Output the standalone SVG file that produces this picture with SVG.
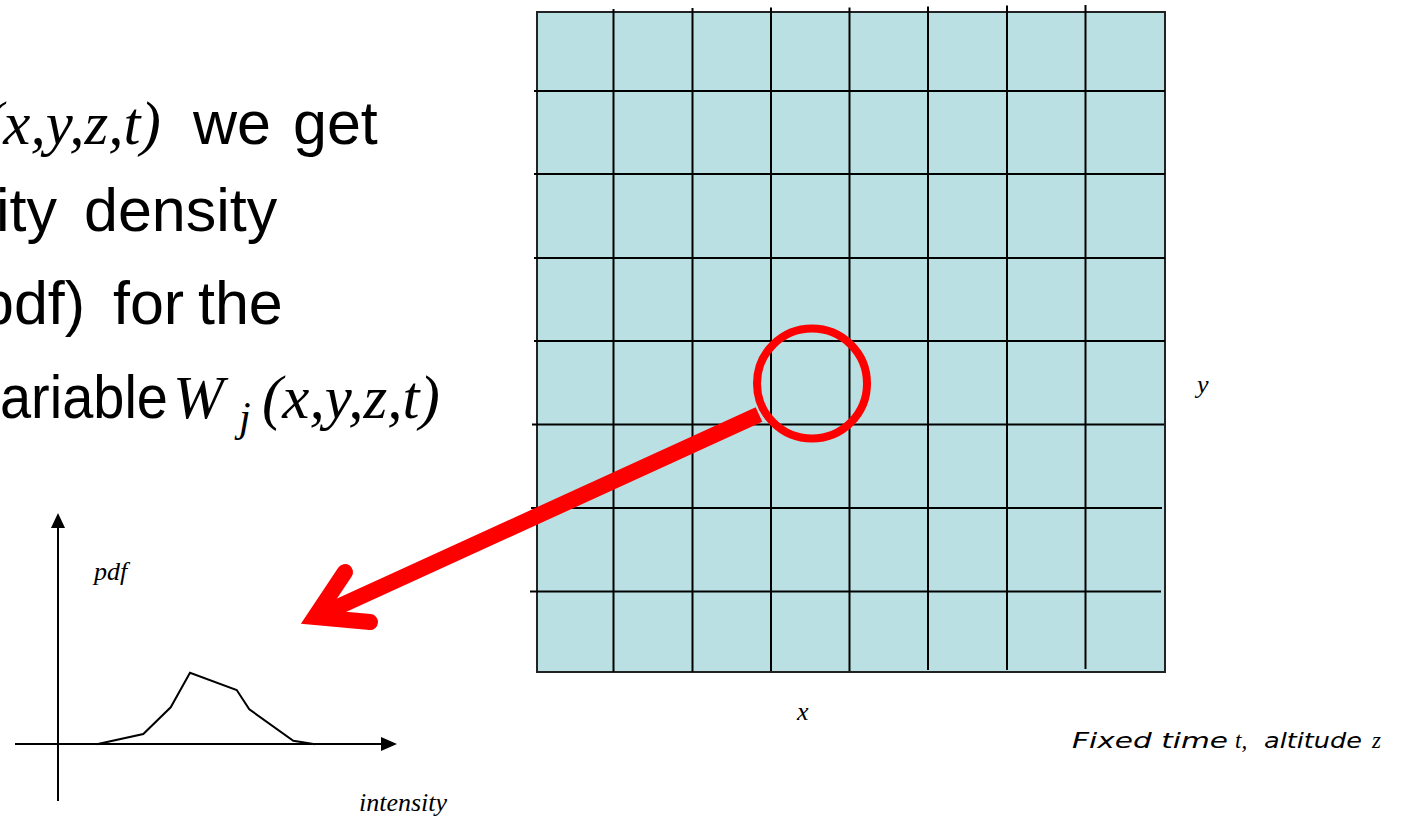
<svg xmlns="http://www.w3.org/2000/svg" width="1416" height="816" viewBox="0 0 1416 816">
<style>
.big{font-family:"Liberation Sans",Arial,sans-serif;font-size:61px;fill:#000}
.mi{font-family:"Liberation Serif","Times New Roman",serif;font-style:italic;fill:#000}
.grid line{stroke:#000;stroke-width:2}
.ax{stroke:#000;stroke-width:2;fill:none}
.red{stroke:#ff0000;fill:none}
.fx{font-family:"DejaVu Sans",sans-serif;font-style:italic;font-size:21px;fill:#000}
</style>
<rect width="1416" height="816" fill="#fff"/>
<g id="text">
<text class="big" y="144"><tspan class="mi" x="-17">(x,y,z,t)</tspan><tspan x="193">we</tspan><tspan x="293">get</tspan></text>
<text class="big" y="231"><tspan x="-4">ity</tspan><tspan x="84">density</tspan></text>
<text class="big" y="324"><tspan x="-20">pdf)</tspan><tspan x="113">for</tspan><tspan x="198">the</tspan></text>
<text class="big" y="418"><tspan x="0" textLength="168" lengthAdjust="spacingAndGlyphs">ariable</tspan><tspan class="mi" x="173">W</tspan><tspan class="mi" x="239" y="431" font-size="42">j</tspan><tspan class="mi" x="262" y="418">(x,y,z,t)</tspan></text>
</g>
<g id="grid" class="grid">
<rect x="537" y="12" width="628" height="660" fill="#bae0e3" stroke="#222" stroke-width="2"/>
<line x1="613.5" y1="9" x2="613.5" y2="672"/>
<line x1="692.5" y1="8" x2="692.5" y2="672"/>
<line x1="771" y1="7.5" x2="771" y2="671"/>
<line x1="849.5" y1="7.5" x2="849.5" y2="671"/>
<line x1="928" y1="6.5" x2="928" y2="670"/>
<line x1="1007" y1="5.5" x2="1007" y2="670"/>
<line x1="1085.5" y1="5" x2="1085.5" y2="669"/>
<line x1="534" y1="91" x2="1165" y2="91"/>
<line x1="534" y1="174" x2="1165" y2="174"/>
<line x1="534" y1="258" x2="1165" y2="258"/>
<line x1="534" y1="341" x2="1165" y2="341"/>
<line x1="532" y1="424.5" x2="1164" y2="424.5"/>
<line x1="531" y1="508" x2="1162" y2="508"/>
<line x1="530" y1="591.5" x2="1161" y2="591.5"/>
<text class="mi" x="1197" y="393" font-size="26">y</text>
<text class="mi" x="797" y="720" font-size="26">x</text>
</g>
<g id="caption">
<text class="fx" y="748"><tspan x="1072" textLength="156" lengthAdjust="spacingAndGlyphs">Fixed time</tspan><tspan class="mi" x="1235" font-size="23">t,</tspan><tspan x="1264" textLength="98" lengthAdjust="spacingAndGlyphs">altitude</tspan><tspan class="mi" x="1372" font-size="23">z</tspan></text>
</g>
<g id="chart">
<line class="ax" x1="58" y1="527" x2="58" y2="801"/>
<polygon points="58,513 51,528 65,528" fill="#000"/>
<line class="ax" x1="15" y1="744" x2="383" y2="744"/>
<polygon points="397,744 381,737 381,751" fill="#000"/>
<polyline class="ax" stroke-width="1.6" points="96.7,744.3 143.3,734 170.7,707.3 190,672.7 236.7,690 249.3,709.3 293.3,740.7 315,744.3"/>
<text class="mi" x="94" y="580" font-size="26">pdf</text>
<text class="mi" x="359" y="811" font-size="26">intensity</text>
</g>
<g id="connectors">
<circle class="red" cx="812" cy="383.5" r="55" stroke-width="8"/>
<path class="red" d="M759,414.5 L318,616" stroke-width="16"/>
<path class="red" d="M345,572 L315,617 L370,622" stroke-width="16" stroke-linecap="round" stroke-linejoin="miter"/>
</g>
</svg>
